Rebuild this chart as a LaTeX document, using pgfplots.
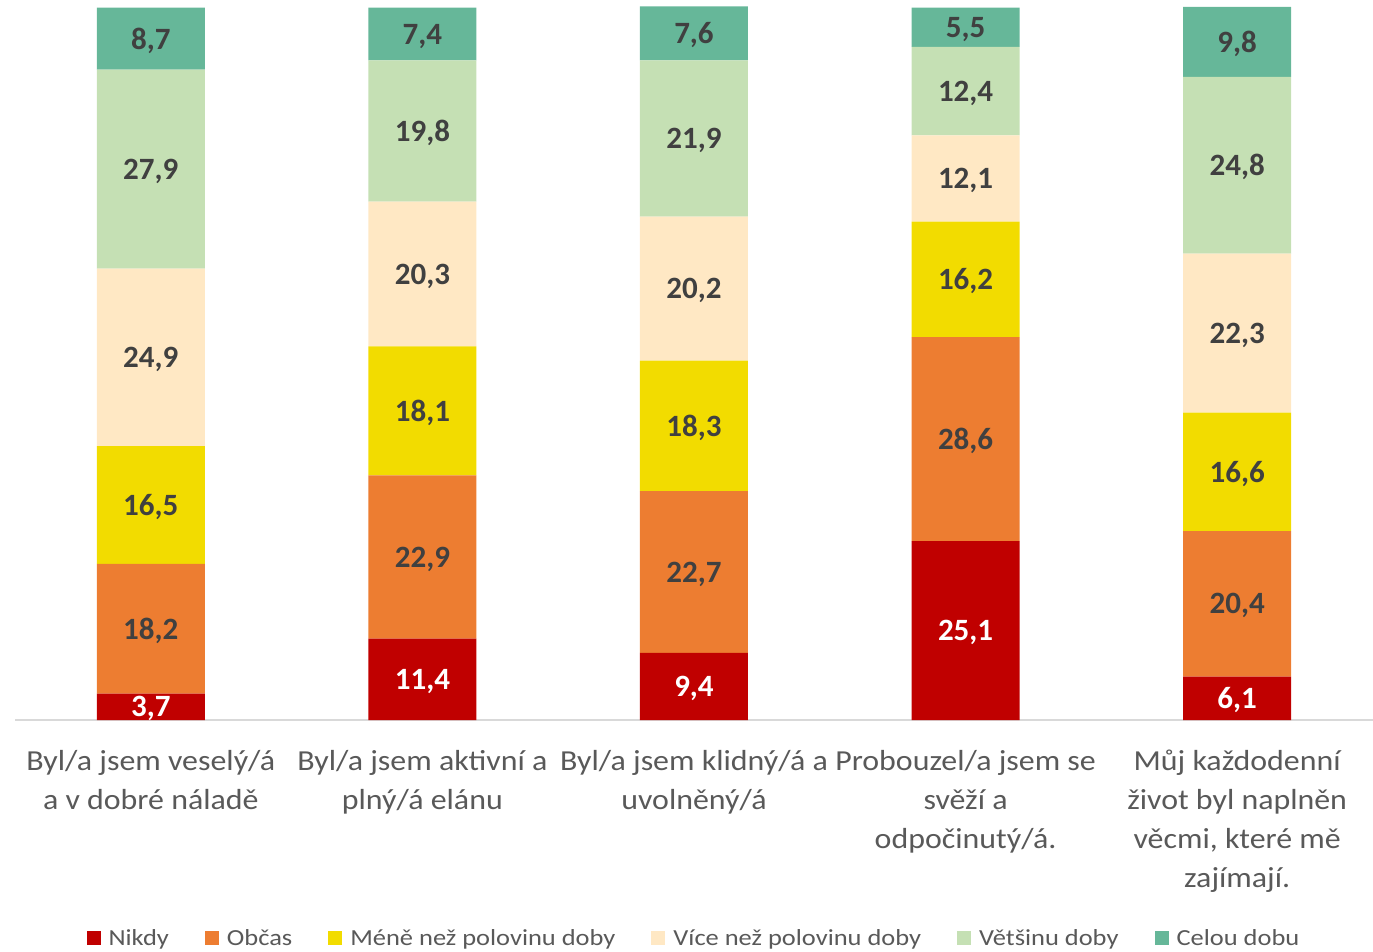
\documentclass[border=0pt]{standalone}
\usepackage{pgfplots}
\pgfplotsset{compat=1.18}
\usepackage{fontspec}
\setmainfont{Carlito}
\newfontfamily\widefont{Carlito}[FakeStretch=1.1]
\newfontfamily\widerfont{Carlito}[FakeStretch=1.15]
\definecolor{cNikdy}{HTML}{C00000}
\definecolor{cObcas}{HTML}{ED7D31}
\definecolor{cMene}{HTML}{F2DC00}
\definecolor{cVice}{HTML}{FFE8C4}
\definecolor{cVetsinu}{HTML}{C5E0B4}
\definecolor{cCelou}{HTML}{66B799}
\definecolor{cLab}{HTML}{404040}
\definecolor{cTick}{HTML}{595959}
\begin{document}
\begin{tikzpicture}
\path[use as bounding box] (-15pt,-231pt) rectangle (1358pt,720pt);
\begin{axis}[
  at={(0pt,0pt)}, anchor=south west,
  scale only axis, width=1358pt, height=713pt,
  xmin=-0.5, xmax=4.5, ymin=0, ymax=100,
  ybar stacked, bar width=108pt,
  axis y line=none, axis x line*=bottom,
  x axis line style={draw=black!15, line width=1.5pt, -},
  xtick={0,1,2,3,4}, major tick length=0pt,
  xticklabels={{Byl/a jsem veselý/á\\a v dobré náladě},{Byl/a jsem aktivní a\\plný/á elánu},{Byl/a jsem klidný/á a\\uvolněný/á},{Probouzel/a jsem se\\svěží a\\odpočinutý/á.},{Můj každodenní\\život byl naplněn\\věcmi, které mě\\zajímají.}},
  xticklabel style={align=center, font=\widefont\fontsize{29}{39}\selectfont, text=cTick, anchor=north, inner sep=0pt, yshift=-30pt},
  clip=false,
  visualization depends on=rawy \as \rawy,
  nodes near coords={\pgfmathprintnumber[fixed,fixed zerofill,precision=1,use comma,assume math mode=true]{\rawy}},
  every node near coord/.append style={anchor=center, yshift=-2pt, font=\fontsize{31}{31}\selectfont\bfseries, text=cLab},
  legend columns=-1,
  legend style={draw=none, at={(0.5,-0.3058)}, anchor=center, font=\widerfont\fontsize{23}{23}\selectfont, text=cTick, /tikz/every even column/.append style={column sep=34pt}},
  every axis plot/.append style={draw=none, legend image code/.code={\fill[##1] (0pt,-7pt) rectangle (14pt,7pt); \path (20pt,0pt);}},
]
\addplot[fill=cNikdy, nodes near coords style={text=white}] coordinates {(0,3.7) (1,11.4) (2,9.4) (3,25.1) (4,6.1)};
\addplot[fill=cObcas] coordinates {(0,18.2) (1,22.9) (2,22.7) (3,28.6) (4,20.4)};
\addplot[fill=cMene] coordinates {(0,16.5) (1,18.1) (2,18.3) (3,16.2) (4,16.6)};
\addplot[fill=cVice] coordinates {(0,24.9) (1,20.3) (2,20.2) (3,12.1) (4,22.3)};
\addplot[fill=cVetsinu] coordinates {(0,27.9) (1,19.8) (2,21.9) (3,12.4) (4,24.8)};
\addplot[fill=cCelou] coordinates {(0,8.7) (1,7.4) (2,7.6) (3,5.5) (4,9.8)};
\legend{Nikdy, Občas, Méně než polovinu doby, Více než polovinu doby, Většinu doby, Celou dobu}
\end{axis}
\end{tikzpicture}
\end{document}
